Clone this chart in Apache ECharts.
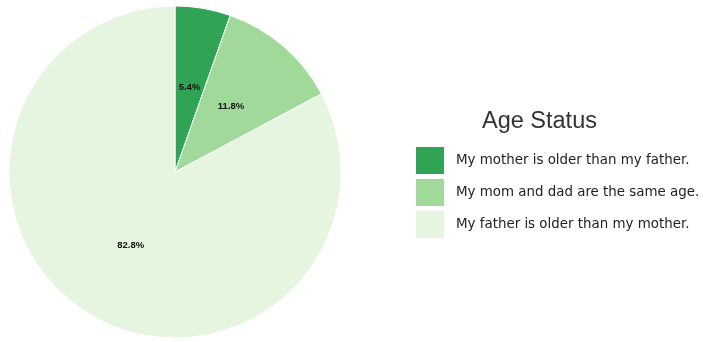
<!DOCTYPE html>
<html>
<head>
<meta charset="utf-8">
<script src="https://cdn.jsdelivr.net/npm/echarts@6/dist/echarts.min.js"></script>
<style>
  html, body { margin: 0; padding: 0; background: #ffffff; }
  #chart { width: 703px; height: 342px; }
</style>
</head>
<body>
<div id="chart"></div>
<script>
// Survey answers: which parent is older
const categories = [
  'My mother is older than my father.',
  'My mom and dad are the same age.',
  'My father is older than my mother.'
];
const shares = [5.4, 11.8, 82.8];
const sliceColors = ['#31a354', '#a1d99b', '#e5f5e0'];
const legendTitle = 'Age Status';

const chart = echarts.init(document.getElementById('chart'), null, { renderer: 'canvas' });

chart.setOption({
  backgroundColor: '#ffffff',
  animation: false,
  title: {
    text: legendTitle,
    left: 482,
    top: 110,
    padding: 0,
    textStyle: {
      fontFamily: 'Liberation Sans, Arial, sans-serif',
      fontSize: 23.5,
      fontWeight: 'normal',
      color: '#333333'
    }
  },
  legend: {
    orient: 'vertical',
    left: 414,
    top: 145,
    padding: 0,
    itemWidth: 30,
    itemHeight: 29,
    itemGap: 1,
    icon: 'rect',
    selectedMode: false,
    data: categories,
    textStyle: {
      fontFamily: 'DejaVu Sans, Verdana, sans-serif',
      fontSize: 13.4,
      color: '#222222',
      padding: [0, 0, 0, 6]
    }
  },
  series: [{
    type: 'pie',
    center: [175, 172],
    radius: 166,
    startAngle: 90,
    clockwise: true,
    avoidLabelOverlap: false,
    emphasis: { disabled: true },
    itemStyle: { borderColor: '#ffffff', borderWidth: 1 },
    label: {
      show: true,
      position: 'inside',
      formatter: (p) => p.value.toFixed(1) + '%',
      fontFamily: 'Liberation Sans, Arial, sans-serif',
      fontSize: 9.5,
      fontWeight: 'bold',
      color: '#111111'
    },
    labelLine: { show: false },
    data: categories.map((name, i) => ({
      name: name,
      value: shares[i],
      itemStyle: { color: sliceColors[i] }
    }))
  }]
});
</script>
</body>
</html>
